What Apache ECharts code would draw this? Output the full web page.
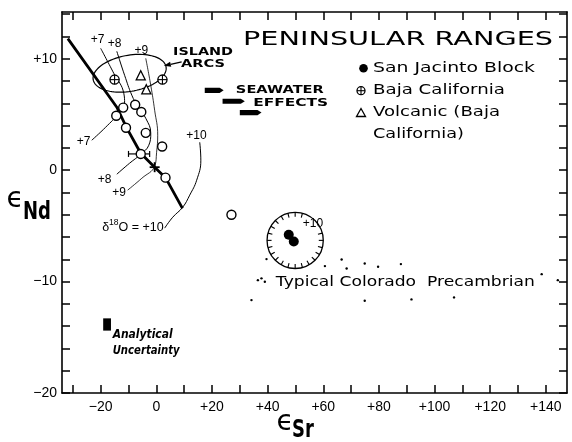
<!DOCTYPE html>
<html>
<head>
<meta charset="utf-8">
<script src="https://cdn.jsdelivr.net/npm/echarts@6/dist/echarts.min.js"></script>
<style>
  html, body { margin: 0; padding: 0; background: #fff; }
  #chart { width: 572px; height: 442px; }
</style>
</head>
<body>
<div id="chart"></div>
<script>
// ---------- values (εSr, εNd) ----------
const openCircles = [
  [-11.9, 5.62], [-7.6, 5.87], [-5.4, 5.23], [-14.4, 4.89], [-10.9, 3.81],
  [-3.8, 3.35], [-5.6, 1.46], [2.1, 2.13], [3.3, -0.67], [27.0, -4.0]
];
const sanJacinto = [[47.6, -5.8], [49.4, -6.4]];
const bajaCalifornia = [[-15.0, 8.13], [2.2, 8.13]];
const volcanicBaja = [[-5.6, 8.52], [-3.6, 7.26]];
const coloradoPrecambrian = [
  [60.6, -8.61], [66.6, -8.01], [68.4, -8.82], [74.9, -8.37], [79.7, -8.67],
  [87.9, -8.43], [36.5, -9.87], [37.8, -9.71], [39.0, -10.02], [138.5, -9.33],
  [144.3, -9.87], [34.2, -11.66], [74.9, -11.72], [91.7, -11.6], [107.0, -11.42],
  [39.6, -7.98]
];
// horizontal εSr error bar: [low, high, εNd]
const srErrorBar = [[-10.0, -2.4, 1.46]];
const bulkEarth = [[-0.6, 0.27]];
// mixing curve
const mixingCurve = [
  [-31.8, 11.81], [-14.2, 5.65], [-10.6, 3.77], [-5.6, 1.52],
  [-0.6, 0.27], [3.3, -0.67], [9.4, -3.43]
];
// δ18O contours
const contour7 = [[-20.0, 10.94], [-15.3, 8.70], [-11.7, 6.91], [-11.4, 6.01], [-13.5, 5.11], [-18.2, 3.86], [-23.2, 2.69]];
const contour8 = [[-14.2, 10.67], [-11.4, 8.52], [-8.8, 6.73], [-6.7, 5.74], [-3.8, 4.66], [-2.0, 3.32], [-2.7, 2.24], [-5.6, 1.43], [-9.6, 0.63], [-14.2, -0.36]];
const contour9 = [[-3.8, 10.04], [-2.0, 7.62], [-0.6, 5.38], [0.5, 3.14], [0.1, 1.61], [-0.6, 0.36], [-5.2, -0.72], [-10.3, -1.79]];
const contour10 = [[15.6, 2.51], [16.0, 0.90], [14.5, -0.90], [12.0, -2.24], [9.5, -3.32], [5.9, -4.22], [3.0, -5.20]];
// seawater shift arrows: [εSr start, εSr end, εNd]
const seawaterArrows = [[17.4, 24.2, 7.17], [23.8, 31.8, 6.19], [30.0, 37.8, 5.17]];
// island arc field: centre
const islandArcCentre = [[-9.6, 8.70]];
// δ18O = +10 field around the San Jacinto samples: centre
const dialCentre = [[49.9, -6.3]];
// analytical uncertainty box: [εSr low, εSr high, εNd high, εNd low]
const analyticalBox = [[-19.1, -16.3, -13.3, -14.4]];
// axis ticks and labels
const xTickValues = [-30, -20, -10, 0, 10, 20, 30, 40, 50, 60, 70, 80, 90, 100, 110, 120, 130, 140];
const xLabelValues = [-20, 0, 20, 40, 60, 80, 100, 120, 140];
const yTickValues = [-20, -18, -16, -14, -12, -10, -8, -6, -4, -2, 0, 2, 4, 6, 8, 10, 12, 14];
const yLabelValues = [-20, -10, 0, 10];

// ---------- drawing ----------
const NUM = 'Liberation Sans';
const LEROY = 'DejaVu Sans';
const INK = '#000';

const measureCtx = document.createElement('canvas').getContext('2d');
function textWidth(text, size, family, weight, style) {
  measureCtx.font = (style || 'normal') + ' ' + (weight || 'normal') + ' ' + size + 'px "' + family + '"';
  return measureCtx.measureText(text).width;
}
function fitScale(text, size, family, weight, target, style) {
  return target / textWidth(text, size, family, weight, style);
}
function signed(v) {
  if (v > 0) return '+' + v;
  if (v < 0) return '\u2212' + Math.abs(v);
  return '0';
}

// annotation texts placed in data space
const notes = [
  { t: '+7', at: [-21.1, 11.72], size: 12, fam: NUM },
  { t: '+8', at: [-15.0, 11.36], size: 12, fam: NUM },
  { t: '+9', at: [-5.4, 10.76], size: 12, fam: NUM },
  { t: '+7', at: [-26.1, 2.54], size: 12, fam: NUM },
  { t: '+8', at: [-18.6, -0.81], size: 12, fam: NUM },
  { t: '+9', at: [-13.4, -2.04], size: 12, fam: NUM },
  { t: '+10', at: [14.4, 3.14], size: 12, fam: NUM },
  { t: '+10', at: [56.3, -4.78], size: 12, fam: NUM },
  { t: 'ISLAND', at: [16.8, 10.61], size: 11, fam: LEROY, w: 'bold', width: 60 },
  { t: 'ARCS', at: [16.8, 9.48], size: 11, fam: LEROY, w: 'bold', width: 44 },
  { t: 'SEAWATER', at: [44.4, 7.17], size: 11, fam: LEROY, w: 'bold', width: 88 },
  { t: 'EFFECTS', at: [48.3, 6.04], size: 11, fam: LEROY, w: 'bold', width: 75 },
  { t: 'Typical Colorado  Precambrian', at: [89.5, -10.02], size: 14.5, fam: LEROY, width: 259 },
  { t: 'Analytical', at: [-15.7, -14.8], size: 12, fam: LEROY, w: 'bold', s: 'italic', align: 'left', width: 60 },
  { t: 'Uncertainty', at: [-15.7, -16.2], size: 12, fam: LEROY, w: 'bold', s: 'italic', align: 'left', width: 67 },
  { rich: true, at: [-8.4, -5.02] }
];

function renderNote(params, api) {
  const n = notes[params.dataIndex];
  const p = api.coord([api.value(0), api.value(1)]);
  if (n.rich) {
    return {
      type: 'text', x: p[0], y: p[1],
      style: {
        text: '{d|\u03b4}{s|18}{d|O = +10}',
        align: 'center', verticalAlign: 'middle', fill: INK,
        rich: {
          d: { fontSize: 12.5, fontFamily: NUM, lineHeight: 16, verticalAlign: 'bottom' },
          s: { fontSize: 8.5, fontFamily: NUM, lineHeight: 16, verticalAlign: 'top' }
        }
      }
    };
  }
  const sx = n.width ? fitScale(n.t, n.size, n.fam, n.w, n.width, n.s) : 1;
  return {
    type: 'text', x: p[0], y: p[1], scaleX: sx,
    style: {
      text: n.t, fontSize: n.size, fontFamily: n.fam, fontWeight: n.w || 'normal',
      fontStyle: n.s || 'normal', align: n.align || 'center', verticalAlign: 'middle', fill: INK
    }
  };
}

const contourLine = (data, width) => ({
  type: 'line', data, smooth: 0.45, symbol: 'none', silent: true, z: 2,
  lineStyle: { color: INK, width }
});

const axisBase = {
  type: 'value', splitLine: { show: false },
  axisLine: { show: true, onZero: false, lineStyle: { color: INK, width: 1.6 } }
};

const option = {
  animation: false,
  backgroundColor: '#fff',
  grid: { left: 62, right: 5, top: 12, bottom: 49, containLabel: false, outerBoundsMode: 'none' },
  xAxis: [
    Object.assign({}, axisBase, {
      min: -33.9, max: 147.6, position: 'bottom',
      axisTick: { show: true, inside: true, length: 8, customValues: xTickValues, lineStyle: { color: INK, width: 1.5 } },
      axisLabel: { customValues: xLabelValues, formatter: signed, color: INK, fontSize: 14, fontFamily: NUM, margin: 7 }
    }),
    Object.assign({}, axisBase, {
      min: -33.9, max: 147.6, position: 'top',
      axisTick: { show: true, inside: true, length: 8, customValues: xTickValues, lineStyle: { color: INK, width: 1.5 } },
      axisLabel: { show: false }
    })
  ],
  yAxis: [
    Object.assign({}, axisBase, {
      min: -20, max: 14.2, position: 'left',
      axisTick: { show: true, inside: true, length: 8, customValues: yTickValues, lineStyle: { color: INK, width: 1.5 } },
      axisLabel: { customValues: yLabelValues, formatter: signed, color: INK, fontSize: 14, fontFamily: NUM, margin: 5 }
    }),
    Object.assign({}, axisBase, {
      min: -20, max: 14.2, position: 'right',
      axisTick: { show: true, inside: true, length: 8, customValues: yTickValues, lineStyle: { color: INK, width: 1.5 } },
      axisLabel: { show: false }
    })
  ],
  series: [
    // mixing curve
    { type: 'line', data: mixingCurve, symbol: 'none', silent: true, z: 2,
      lineStyle: { color: INK, width: 2.8 } },
    contourLine(contour7, 1),
    contourLine(contour8, 1),
    contourLine(contour9, 0.8),
    contourLine(contour10, 1),
    // island arc field
    { type: 'custom', data: islandArcCentre, silent: true, z: 3,
      renderItem(params, api) {
        const c = api.coord([api.value(0), api.value(1)]);
        const rx = api.size([13.3, 0])[0];
        const ry = api.size([0, 1.62])[1];
        const th = -10 * Math.PI / 180, ct = Math.cos(th), st = Math.sin(th);
        const pts = [];
        for (let i = 0; i <= 90; i++) {
          const t = i / 90 * 2 * Math.PI;
          const ex = rx * Math.cos(t), ey = ry * Math.sin(t);
          pts.push([c[0] + ex * ct - ey * st, c[1] + ex * st + ey * ct]);
        }
        return { type: 'polyline', shape: { points: pts }, style: { fill: 'none', stroke: INK, lineWidth: 1.2 } };
      } },
    // arrow from the ISLAND ARCS label to the field
    { type: 'custom', data: [[9.1, 9.73, 2.7, 9.37]], silent: true, z: 3,
      renderItem(params, api) {
        const a = api.coord([api.value(0), api.value(1)]);
        const b = api.coord([api.value(2), api.value(3)]);
        const dx = b[0] - a[0], dy = b[1] - a[1], L = Math.hypot(dx, dy);
        const ux = dx / L, uy = dy / L, hl = 7, hw = 2.6;
        const base = [b[0] - ux * hl, b[1] - uy * hl];
        return { type: 'group', children: [
          { type: 'line', shape: { x1: a[0], y1: a[1], x2: base[0], y2: base[1] }, style: { stroke: INK, lineWidth: 1.3 } },
          { type: 'polygon', shape: { points: [b, [base[0] - uy * hw, base[1] + ux * hw], [base[0] + uy * hw, base[1] - ux * hw]] }, style: { fill: INK } }
        ] };
      } },
    // seawater alteration arrows
    { type: 'custom', data: seawaterArrows, silent: true, z: 3,
      renderItem(params, api) {
        const a = api.coord([api.value(0), api.value(2)]);
        const b = api.coord([api.value(1), api.value(2)]);
        const h = 2.6, head = 4;
        return { type: 'polygon', shape: { points: [
          [a[0], a[1] - h], [b[0] - head, a[1] - h], [b[0], a[1]], [b[0] - head, a[1] + h], [a[0], a[1] + h]
        ] }, style: { fill: INK } };
      } },
    // δ18O = +10 dial around the San Jacinto samples
    { type: 'custom', data: dialCentre, silent: true, z: 3,
      renderItem(params, api) {
        const c = api.coord([api.value(0), api.value(1)]);
        const r = api.size([10.1, 0])[0];
        const kids = [{ type: 'circle', shape: { cx: c[0], cy: c[1], r }, style: { fill: 'none', stroke: INK, lineWidth: 1.3 } }];
        for (let deg = 0; deg < 360; deg += 15) {
          if (deg > 290 && deg < 345) continue;
          const t = deg * Math.PI / 180, co = Math.cos(t), si = Math.sin(t);
          kids.push({ type: 'line', shape: { x1: c[0] + r * co, y1: c[1] + r * si, x2: c[0] + (r - 4.5) * co, y2: c[1] + (r - 4.5) * si },
            style: { stroke: INK, lineWidth: 1.1 } });
        }
        return { type: 'group', children: kids };
      } },
    // εSr error bar
    { type: 'custom', data: srErrorBar, silent: true, z: 4,
      renderItem(params, api) {
        const a = api.coord([api.value(0), api.value(2)]);
        const b = api.coord([api.value(1), api.value(2)]);
        const cap = 3;
        return { type: 'group', children: [
          { type: 'line', shape: { x1: a[0], y1: a[1], x2: b[0], y2: b[1] }, style: { stroke: INK, lineWidth: 1.2 } },
          { type: 'line', shape: { x1: a[0], y1: a[1] - cap, x2: a[0], y2: a[1] + cap }, style: { stroke: INK, lineWidth: 1.2 } },
          { type: 'line', shape: { x1: b[0], y1: b[1] - cap, x2: b[0], y2: b[1] + cap }, style: { stroke: INK, lineWidth: 1.2 } }
        ] };
      } },
    // Peninsular Ranges samples
    { type: 'scatter', data: openCircles, symbol: 'circle', symbolSize: 9, silent: true, z: 5,
      itemStyle: { color: '#fff', borderColor: INK, borderWidth: 1.4, opacity: 1 } },
    // bulk earth cross
    { type: 'custom', data: bulkEarth, silent: true, z: 5,
      renderItem(params, api) {
        const c = api.coord([api.value(0), api.value(1)]);
        const s = 5;
        return { type: 'group', children: [
          { type: 'line', shape: { x1: c[0] - s, y1: c[1], x2: c[0] + s, y2: c[1] }, style: { stroke: INK, lineWidth: 1.8 } },
          { type: 'line', shape: { x1: c[0], y1: c[1] - s, x2: c[0], y2: c[1] + s }, style: { stroke: INK, lineWidth: 1.8 } }
        ] };
      } },
    // Baja California
    { type: 'custom', data: bajaCalifornia, silent: true, z: 5,
      renderItem(params, api) {
        const c = api.coord([api.value(0), api.value(1)]);
        const r = 4.6;
        return { type: 'group', children: [
          { type: 'circle', shape: { cx: c[0], cy: c[1], r }, style: { fill: '#fff', stroke: INK, lineWidth: 1.3 } },
          { type: 'line', shape: { x1: c[0] - r, y1: c[1], x2: c[0] + r, y2: c[1] }, style: { stroke: INK, lineWidth: 1.1 } },
          { type: 'line', shape: { x1: c[0], y1: c[1] - r, x2: c[0], y2: c[1] + r }, style: { stroke: INK, lineWidth: 1.1 } }
        ] };
      } },
    // Volcanic (Baja California)
    { type: 'scatter', data: volcanicBaja, symbol: 'triangle', symbolSize: 9, silent: true, z: 5,
      itemStyle: { color: '#fff', borderColor: INK, borderWidth: 1.3, opacity: 1 } },
    // San Jacinto Block
    { type: 'scatter', data: sanJacinto, symbol: 'circle', symbolSize: 10, silent: true, z: 5,
      itemStyle: { color: INK, opacity: 1 } },
    // Colorado Precambrian field
    { type: 'scatter', data: coloradoPrecambrian, symbol: 'circle', symbolSize: 2.4, silent: true, z: 5,
      itemStyle: { color: INK, opacity: 1 } },
    // analytical uncertainty
    { type: 'custom', data: analyticalBox, silent: true, z: 5,
      renderItem(params, api) {
        const a = api.coord([api.value(0), api.value(2)]);
        const b = api.coord([api.value(1), api.value(3)]);
        return { type: 'rect', shape: { x: a[0], y: a[1], width: b[0] - a[0], height: b[1] - a[1] }, style: { fill: INK } };
      } },
    // annotations
    { type: 'custom', data: notes.map(n => n.at), silent: true, z: 6, renderItem: renderNote }
  ],
  graphic: [
    { type: 'text', x: 243, y: 39.5, scaleX: fitScale('PENINSULAR RANGES', 20, LEROY, 'normal', 310),
      style: { text: 'PENINSULAR RANGES', fontSize: 20, fontFamily: LEROY, align: 'left', verticalAlign: 'middle', fill: INK } },
    // legend
    { type: 'circle', shape: { cx: 363.5, cy: 68.3, r: 4.3 }, style: { fill: INK } },
    { type: 'text', x: 373, y: 68.3, scaleX: fitScale('San Jacinto Block', 14.5, LEROY, 'normal', 162),
      style: { text: 'San Jacinto Block', fontSize: 14.5, fontFamily: LEROY, align: 'left', verticalAlign: 'middle', fill: INK } },
    { type: 'circle', shape: { cx: 361, cy: 90.7, r: 4 }, style: { fill: '#fff', stroke: INK, lineWidth: 1.3 } },
    { type: 'line', shape: { x1: 357, y1: 90.7, x2: 365, y2: 90.7 }, style: { stroke: INK, lineWidth: 1.1 } },
    { type: 'line', shape: { x1: 361, y1: 86.7, x2: 361, y2: 94.7 }, style: { stroke: INK, lineWidth: 1.1 } },
    { type: 'text', x: 373, y: 90.7, scaleX: fitScale('Baja California', 14.5, LEROY, 'normal', 132),
      style: { text: 'Baja California', fontSize: 14.5, fontFamily: LEROY, align: 'left', verticalAlign: 'middle', fill: INK } },
    { type: 'polygon', shape: { points: [[361, 108.5], [365.5, 116.5], [356.5, 116.5]] }, style: { fill: '#fff', stroke: INK, lineWidth: 1.3 } },
    { type: 'text', x: 373, y: 112.7, scaleX: fitScale('Volcanic (Baja', 14.5, LEROY, 'normal', 127),
      style: { text: 'Volcanic (Baja', fontSize: 14.5, fontFamily: LEROY, align: 'left', verticalAlign: 'middle', fill: INK } },
    { type: 'text', x: 373, y: 134, scaleX: fitScale('California)', 14.5, LEROY, 'normal', 91),
      style: { text: 'California)', fontSize: 14.5, fontFamily: LEROY, align: 'left', verticalAlign: 'middle', fill: INK } },
    // axis names
    { type: 'text', x: 15, y: 200, style: { text: '\u03f5', fontSize: 28, fontFamily: LEROY, align: 'center', verticalAlign: 'middle', fill: INK } },
    { type: 'text', x: 23, y: 212, scaleX: 0.72, style: { text: 'Nd', fontSize: 25, fontWeight: 'bold', fontFamily: LEROY, align: 'left', verticalAlign: 'middle', fill: INK } },
    { type: 'text', x: 285, y: 423, style: { text: '\u03f5', fontSize: 28, fontFamily: LEROY, align: 'center', verticalAlign: 'middle', fill: INK } },
    { type: 'text', x: 292, y: 430, scaleX: 0.72, style: { text: 'Sr', fontSize: 25, fontWeight: 'bold', fontFamily: LEROY, align: 'left', verticalAlign: 'middle', fill: INK } }
  ]
};

const chart = echarts.init(document.getElementById('chart'));
chart.setOption(option);
</script>
</body>
</html>
